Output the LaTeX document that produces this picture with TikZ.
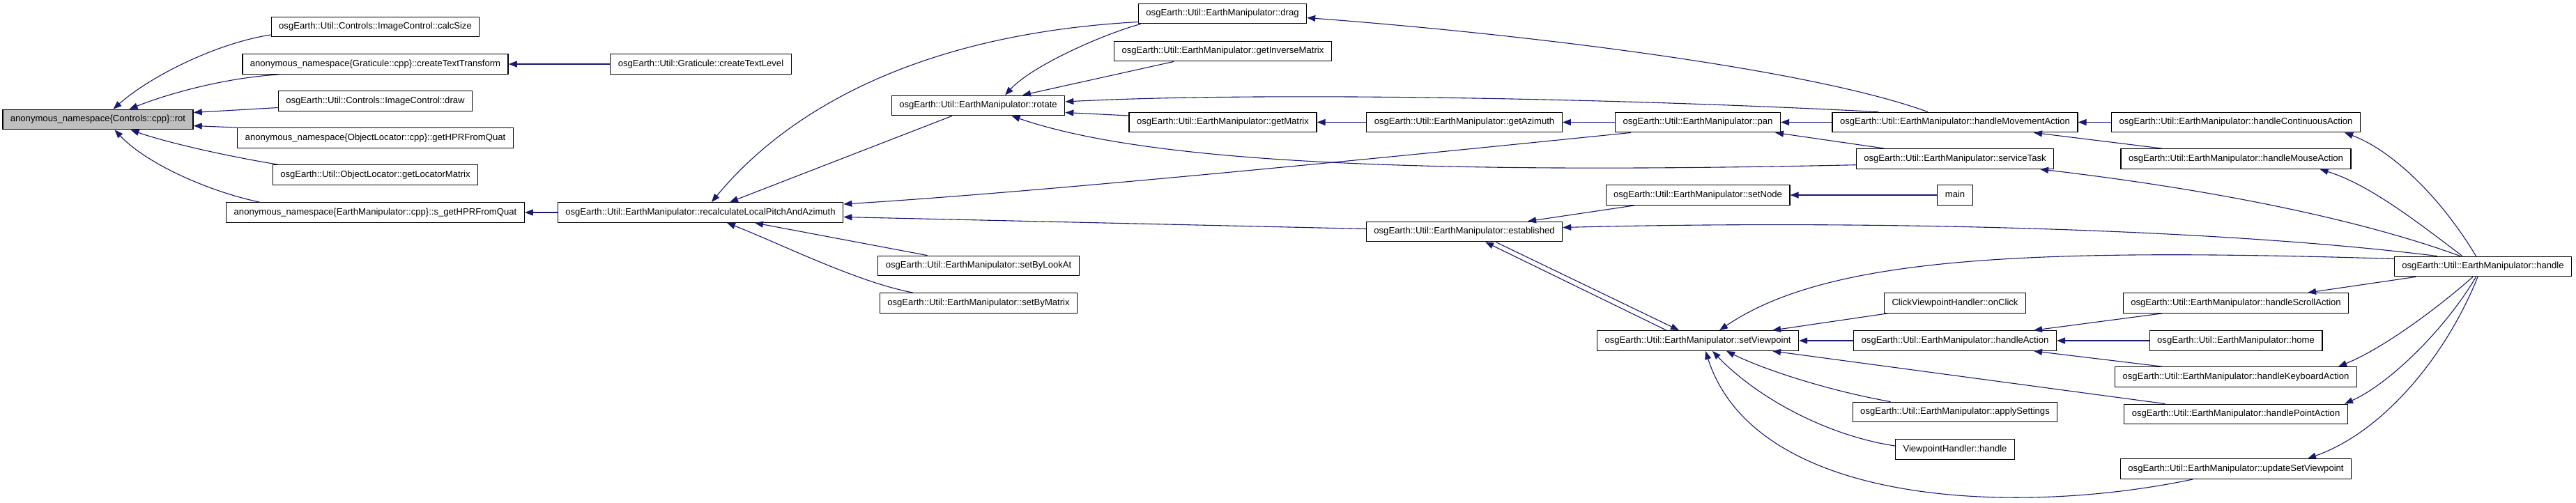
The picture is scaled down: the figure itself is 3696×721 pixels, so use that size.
\documentclass[tikz,border=0pt]{standalone}
\usepackage{fontspec}
\setmainfont{Liberation Sans}
\usetikzlibrary{arrows.meta,calc}
\definecolor{edgeblue}{RGB}{25,25,112}
\definecolor{hlgray}{RGB}{191,191,191}
\begin{document}
\begin{tikzpicture}[x=1pt,y=-1pt,
  fnbox/.style={draw=black, line width=1.3pt, fill=white, minimum height=28.5pt,
    inner xsep=11pt, inner ysep=0pt, text height=9.4pt, text depth=2.8pt,
    font=\fontsize{13.1}{15}\selectfont},
  fnroot/.style={fnbox, fill=hlgray},
  callarrow/.style={draw=edgeblue, line width=1.1pt, -{Triangle[length=12pt,width=9pt]}}]
\useasboundingbox (0,0) rectangle (3696,721);

% ---- nodes ----
\node[fnroot] (rot) at (140.5,171.5) {anonymous\_namespace\{Controls::cpp\}::rot};
\node[fnbox] (calcSize) at (538.5,38.5) {osgEarth::Util::Controls::ImageControl::calcSize};
\node[fnbox] (cTT) at (538.5,92) {anonymous\_namespace\{Graticule::cpp\}::createTextTransform};
\node[fnbox] (drawI) at (538.5,145) {osgEarth::Util::Controls::ImageControl::draw};
\node[fnbox] (getHPR) at (538.5,198) {anonymous\_namespace\{ObjectLocator::cpp\}::getHPRFromQuat};
\node[fnbox] (getLoc) at (538.5,251) {osgEarth::Util::ObjectLocator::getLocatorMatrix};
\node[fnbox] (sHPR) at (538.5,305) {anonymous\_namespace\{EarthManipulator::cpp\}::s\_getHPRFromQuat};
\node[fnbox] (cTL) at (1005.5,92) {osgEarth::Util::Graticule::createTextLevel};
\node[fnbox] (recalc) at (1005,305) {osgEarth::Util::EarthManipulator::recalculateLocalPitchAndAzimuth};
\node[fnbox] (rotate) at (1403.5,151.5) {osgEarth::Util::EarthManipulator::rotate};
\node[fnbox] (setByLookAt) at (1404,381.5) {osgEarth::Util::EarthManipulator::setByLookAt};
\node[fnbox] (setByMatrix) at (1404,435) {osgEarth::Util::EarthManipulator::setByMatrix};
\node[fnbox] (drag) at (1754,19.5) {osgEarth::Util::EarthManipulator::drag};
\node[fnbox] (getInv) at (1754.5,73.5) {osgEarth::Util::EarthManipulator::getInverseMatrix};
\node[fnbox] (getMatrix) at (1754.5,175.5) {osgEarth::Util::EarthManipulator::getMatrix};
\node[fnbox] (getAzimuth) at (2101,175.5) {osgEarth::Util::EarthManipulator::getAzimuth};
\node[fnbox] (established) at (2101,332.5) {osgEarth::Util::EarthManipulator::established};
\node[fnbox] (pan) at (2436,175.5) {osgEarth::Util::EarthManipulator::pan};
\node[fnbox] (setNode) at (2436,280) {osgEarth::Util::EarthManipulator::setNode};
\node[fnbox] (setViewpoint) at (2436,489) {osgEarth::Util::EarthManipulator::setViewpoint};
\node[fnbox] (hMA) at (2805,175.5) {osgEarth::Util::EarthManipulator::handleMovementAction};
\node[fnbox] (serviceTask) at (2805,228) {osgEarth::Util::EarthManipulator::serviceTask};
\node[fnbox] (mainF) at (2805,280) {main};
\node[fnbox] (onClick) at (2805,435) {ClickViewpointHandler::onClick};
\node[fnbox] (handleAction) at (2805,489) {osgEarth::Util::EarthManipulator::handleAction};
\node[fnbox] (applySettings) at (2805,591.5) {osgEarth::Util::EarthManipulator::applySettings};
\node[fnbox] (vpHandle) at (2805,645) {ViewpointHandler::handle};
\node[fnbox] (hCA) at (3208,175.5) {osgEarth::Util::EarthManipulator::handleContinuousAction};
\node[fnbox] (hMouse) at (3208,228) {osgEarth::Util::EarthManipulator::handleMouseAction};
\node[fnbox] (scroll) at (3208,435) {osgEarth::Util::EarthManipulator::handleScrollAction};
\node[fnbox] (home) at (3208,489) {osgEarth::Util::EarthManipulator::home};
\node[fnbox] (keyboard) at (3208,541) {osgEarth::Util::EarthManipulator::handleKeyboardAction};
\node[fnbox] (point) at (3208,594.5) {osgEarth::Util::EarthManipulator::handlePointAction};
\node[fnbox] (update) at (3208,673) {osgEarth::Util::EarthManipulator::updateSetViewpoint};
\node[fnbox] (handle) at (3562.5,382.5) {osgEarth::Util::EarthManipulator::handle};

% ---- edges (caller -> callee, arrow at callee) ----
% into rot
\draw[callarrow] ($(calcSize.west)+(0,11.5)$) .. controls (310,62) and (215,110) .. ($(rot.north)+(22,0)$);
\draw[callarrow] ($(cTT.south)+(-138,0)$) .. controls (320,112) and (240,135) .. ($(rot.north)+(45,0)$);
\draw[callarrow] ($(drawI.west)+(0,9.5)$) -- ($(rot.east)+(0,-10)$);
\draw[callarrow] (getHPR.north west) -- ($(rot.east)+(0,9)$);
\draw[callarrow] ($(getLoc.north)+(-140,0)$) .. controls (330,225) and (240,205) .. ($(rot.south)+(47,0)$);
\draw[callarrow] ($(sHPR.north)+(-166,0)$) .. controls (300,275) and (210,235) .. ($(rot.south)+(24,0)$);
% rank 2
\draw[callarrow] (cTL.west) -- (cTT.east);
\draw[callarrow] (recalc.west) -- (sHPR.east);
% into recalc
\draw[callarrow] ($(drag.west)+(0,12)$) .. controls (1300,50) and (1120,170) .. ($(recalc.north)+(16,0)$);
\draw[callarrow] ($(rotate.south)+(-37.5,0)$) -- ($(recalc.north)+(42,0)$);
\draw[callarrow] ($(pan.south)+(-96,0)$) .. controls (2000,225) and (1500,275) .. ($(recalc.east)+(0,-12)$);
\draw[callarrow] ($(established.west)+(0,-4)$) -- ($(recalc.east)+(0,6.5)$);
\draw[callarrow] ($(setByLookAt.north)+(-73.5,0)$) -- ($(recalc.south)+(78,0)$);
\draw[callarrow] ($(setByMatrix.north)+(-94,0)$) .. controls (1230,405) and (1120,350) .. ($(recalc.south)+(38,0)$);
% into rotate
\draw[callarrow] ($(drag.south west)+(4,0)$) .. controls (1580,50) and (1480,95) .. ($(rotate.north)+(38.5,0)$);
\draw[callarrow] ($(getInv.south)+(-70.5,0)$) -- ($(rotate.north)+(63.5,0)$);
\draw[callarrow] ($(hMA.north)+(-110,0)$) .. controls (2300,140) and (1800,132) .. ($(rotate.east)+(0,-5.5)$);
\draw[callarrow] ($(getMatrix.west)+(0,-9.5)$) -- ($(rotate.east)+(0,10)$);
\draw[callarrow] ($(serviceTask.west)+(0,8.7)$) .. controls (2050,250) and (1650,235) .. ($(rotate.south)+(48,0)$);
% middle chain
\draw[callarrow] (getAzimuth.west) -- (getMatrix.east);
\draw[callarrow] (pan.west) -- (getAzimuth.east);
\draw[callarrow] (hMA.west) -- (pan.east);
\draw[callarrow] ($(serviceTask.north)+(-101,0)$) -- ($(pan.south)+(111,0)$);
\draw[callarrow] (hCA.west) -- (hMA.east);
\draw[callarrow] ($(hMouse.north)+(-106,0)$) -- ($(hMA.south)+(113,0)$);
\draw[callarrow] ($(hMA.north)+(-39,0)$) .. controls (2600,100) and (2200,50) .. ($(drag.east)+(0,6)$);
% established
\draw[callarrow] ($(setNode.south)+(-91,0)$) -- ($(established.north)+(91,0)$);
\draw[callarrow] (mainF.west) -- (setNode.east);
\draw[callarrow] ($(handle.north)+(-65.5,0)$) .. controls (3200,330) and (2700,315) .. ($(established.east)+(0,-6)$);
\draw[callarrow] ($(setViewpoint.north)+(-45,0)$) -- ($(established.south)+(30,0)$);
\draw[callarrow] ($(established.south)+(45,0)$) -- ($(setViewpoint.north)+(-27,0)$);
% into setViewpoint
\draw[callarrow] ($(handle.west)+(0,-11)$) .. controls (2900,355) and (2620,370) .. ($(setViewpoint.north)+(31,0)$);
\draw[callarrow] ($(onClick.south)+(-97,0)$) -- ($(setViewpoint.north)+(107,0)$);
\draw[callarrow] (handleAction.west) -- (setViewpoint.east);
\draw[callarrow] ($(applySettings.north)+(-92.5,0)$) .. controls (2620,560) and (2530,530) .. ($(setViewpoint.south)+(41,0)$);
\draw[callarrow] ($(vpHandle.west)+(0,-5)$) .. controls (2620,625) and (2520,570) .. ($(setViewpoint.south)+(21,0)$);
\draw[callarrow] ($(update.south)+(-61.5,0)$) .. controls (2900,740) and (2520,730) .. ($(setViewpoint.south)+(11,0)$);
\draw[callarrow] ($(point.north)+(-101.5,0)$) -- ($(setViewpoint.south)+(107,0)$);
% into handleAction
\draw[callarrow] ($(scroll.south)+(-106,0)$) -- ($(handleAction.north)+(113,0)$);
\draw[callarrow] (home.west) -- (handleAction.east);
\draw[callarrow] ($(keyboard.north)+(-106,0)$) -- ($(handleAction.south)+(113,0)$);
% from handle
\draw[callarrow] ($(handle.north)+(-10,0)$) .. controls (3500,280) and (3430,215) .. ($(hCA.south)+(156,0)$);
\draw[callarrow] ($(handle.north)+(-29.5,0)$) .. controls (3470,320) and (3400,265) .. ($(hMouse.south)+(120.5,0)$);
\draw[callarrow] ($(handle.north)+(-32.5,0)$) .. controls (3400,320) and (3200,275) .. ($(serviceTask.south)+(122,0)$);
\draw[callarrow] ($(handle.south)+(-96.5,0)$) -- ($(scroll.north)+(103,0)$);
\draw[callarrow] ($(handle.south)+(-14.5,0)$) .. controls (3500,440) and (3420,500) .. ($(keyboard.north)+(147,0)$);
\draw[callarrow] ($(handle.south)+(-10,0)$) .. controls (3510,470) and (3430,550) .. ($(point.north)+(156,0)$);
\draw[callarrow] ($(handle.south)+(-7.5,0)$) .. controls (3510,510) and (3420,620) .. ($(update.north)+(103,0)$);
\end{tikzpicture}
\end{document}
